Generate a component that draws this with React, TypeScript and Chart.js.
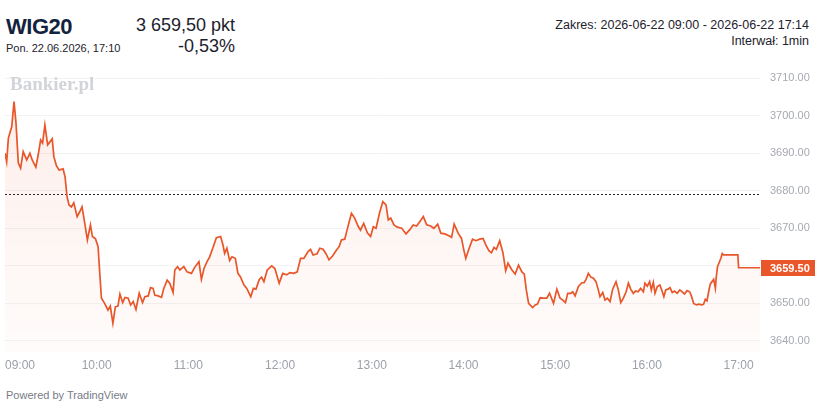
import React, { useEffect, useRef } from "react";
import { Chart, registerables } from "chart.js";

Chart.register(...registerables);

// minutes after 09:00
const minutes = [
  0, 1.1, 2.2, 4.4, 5.9, 7.2, 8.7, 10.2, 11.9, 14.2, 16.3, 17.8, 20.2, 21.7, 23.3, 24.6, 26.1, 27.9, 29.4, 30.9,
  32, 33.7, 35.4, 38, 39.3, 40.6, 41.9, 43.5, 45, 47.2, 48.9, 50.4, 52.2, 53.9, 55.9, 57.2, 59.2, 60.9, 62, 63.1,
  65.2, 67.4, 68.9, 70.6, 72.2, 73.9,
  75.2, 77, 78.5, 80.6, 82.2, 83.9, 85.7, 87.8, 90, 91.5, 93.7, 95.2, 96.9, 98, 100.2, 102.4, 103.9, 106.1, 107.8, 110,
  111.1, 112.9, 114.4, 117, 119.1, 122, 124.1, 126.9, 128.5, 130.2, 132.2, 133.9, 136.1, 138.3, 141.1, 142.6, 143.7, 145.2, 147, 148.5,
  150.7, 152.4, 154,
  156.4, 158.2, 160.8, 162.5, 164.2, 166.4, 167.9, 169.4, 171.6, 174.5, 176.6, 179.4, 181.7, 184.3, 186.4, 189, 191.2, 193.4, 195.5, 198.3,
  199.9, 201.6, 204.2, 206, 208.1, 209.9, 212, 214.3, 216.9, 218.6, 220.1, 222.3, 223.8, 225.5, 226.7, 228.8, 231, 232.6, 234.7, 237.1,
  239.2,
  241, 242.8, 245, 247.2, 249.3, 250.8, 252.4, 254.5, 256.7, 259.6, 262.4, 265, 267.1, 269.3, 271.5, 273.7, 275.9, 278.5, 280.6, 283.1,
  285.2, 287.8, 291.1, 292.2, 293.9, 296.5, 298.7, 300.2, 301.5, 303.7, 305.9, 308.1, 310.6, 312.8, 314.6, 316.7, 318.3, 320, 321.5, 323.7,
  325.8, 327.6, 329.1,
  331.7, 333.8, 336, 338.2, 339.8, 341.1, 342.6, 345.2, 346.9, 348.4, 350.2, 352.3, 354.5, 356.3, 358.9, 361.1, 363.2, 365, 366.7, 368.2,
  370.2, 371.5, 373, 375.2, 377.4, 378.9, 380.2, 381.7, 383.3, 385, 386.7, 388.2, 389.3, 391.1, 392.6, 394.1, 395.9, 397.6, 399.8, 401.3,
  402.9, 404.6, 406.4, 407.9,
  409.4, 411.1, 412.6, 414.2, 415.9, 417.7, 418.7, 420.3, 421.8, 422.9, 424.2, 425.3, 426.8, 428.5, 430.1, 431.1, 432.3, 433.8, 435.1, 436.6,
  438.1, 439.8, 441.5, 443.1, 444.6, 446.3, 448, 449.1, 450.6, 452.4, 453.9, 456.1, 457.1, 458.2, 459.3, 460.4, 461.5, 462.6, 463.7, 464.8,
  465.4, 466.2, 467.5, 468.4, 469.3, 470.2, 479.5, 480, 494,
];

const values = [
  3690.0, 3687.7, 3694, 3697, 3703.7, 3698, 3687.4, 3686, 3690.4, 3688.2, 3690, 3688.2, 3686.3, 3689.5, 3693.5, 3692.7, 3697.5, 3692.2, 3693, 3693.8,
  3689, 3686.6, 3685.5, 3685.8, 3683.7, 3678.4, 3676.2, 3675.7, 3676.8, 3673.1, 3674.4, 3675.7, 3671.3, 3666.9, 3670.9, 3667.8, 3667.2, 3665.1, 3658.1, 3651.4,
  3650, 3648.2, 3649.3, 3644.7, 3649.1, 3649.3,
  3652.5, 3650.2, 3651.6, 3651.4, 3649.6, 3650.5, 3648.4, 3652.7, 3650.2, 3651.8, 3652, 3654.2, 3654, 3652.2, 3652, 3651.6, 3654, 3656.2, 3655.4, 3652.9,
  3658.9, 3659.8, 3658.9, 3659.8, 3658.4, 3658, 3659.6, 3661.1, 3656.4, 3659.3, 3661.1, 3662.4, 3664.9, 3667.5, 3667.8, 3665.6, 3663.3, 3664.7, 3661.4, 3662.4,
  3662, 3658, 3657.1,
  3654.9, 3654, 3651.8, 3654, 3653.8, 3656.4, 3657, 3655.8, 3658.9, 3660, 3659.3, 3655.4, 3658, 3657.6, 3658.2, 3658, 3658.4, 3662, 3662, 3663.8,
  3664.4, 3662.9, 3663.2, 3664.7, 3664.4, 3663.3, 3661.6, 3662.6, 3664.2, 3665.1, 3666.9, 3667.1, 3669.5, 3672.2, 3674, 3672.7, 3670.6, 3669.5, 3671.3, 3668.8,
  3667.8,
  3670.4, 3670, 3674, 3677.1, 3676.2, 3672.2, 3672.7, 3670.9, 3670.3, 3670, 3668.5, 3669.7, 3670.9, 3670.6, 3671.8, 3673.1, 3670.9, 3670.6, 3670, 3671.1,
  3668.7, 3668.5, 3667.9, 3667.6, 3671.1, 3668.7, 3667.3, 3664.2, 3662, 3664.7, 3667.1, 3666.7, 3667.1, 3667.3, 3665.6, 3664, 3663.5, 3664.9, 3664.4, 3666.7,
  3663.5, 3658.7, 3660.7,
  3658.9, 3657.8, 3660.2, 3658.4, 3657.8, 3653.6, 3650, 3648.9, 3649.6, 3649.8, 3651.5, 3651.4, 3651.4, 3652.7, 3650, 3653.8, 3651.4, 3650.9, 3650.2, 3652.7,
  3652.7, 3653.1, 3652, 3654.5, 3655.5, 3655.5, 3656.4, 3658, 3657, 3656.7, 3655.8, 3653.6, 3651.8, 3652.9, 3650.9, 3651.4, 3650.5, 3653.8, 3655.8, 3653.6,
  3650.2, 3651.4, 3653.1, 3655.4,
  3653.8, 3652.7, 3653.3, 3653.1, 3654, 3653.1, 3655.4, 3654.6, 3655.8, 3653.6, 3655.6, 3652.7, 3654.5, 3654.9, 3653.1, 3651.8, 3653.6, 3653.8, 3654.2, 3652.9,
  3653.3, 3652.7, 3653.6, 3653.1, 3652.5, 3653.4, 3653.1, 3652, 3650, 3649.6, 3649.8, 3649.6, 3649.8, 3651.1, 3650.7, 3653.1, 3655.2, 3655.8, 3656.4, 3654,
  3657.1, 3659.8, 3661.1, 3662, 3663.3, 3662.9, 3662.9, 3659.5, 3659.5,
];

const prevClose = 3679.0;
const lastPrice = 3659.5;
const yMin = 3637.07;
const yMax = 3714.26;
const yTicks = [3640, 3650, 3660, 3670, 3680, 3690, 3700, 3710];
const xTickMinutes = [0, 60, 120, 180, 240, 300, 360, 420, 480];
const xTickLabels = ["09:00", "10:00", "11:00", "12:00", "13:00", "14:00", "15:00", "16:00", "17:00"];

const FONT = '"Liberation Sans", Arial, sans-serif';
const LINE = "#e8562a";

export default function App() {
  const ref = useRef<HTMLCanvasElement>(null);

  useEffect(() => {
    const canvas = ref.current;
    if (!canvas) return;
    const points = minutes.map((m, i) => ({ x: m, y: values[i] }));

    const extras = {
      id: "extras",
      beforeDatasetsDraw(chart: any) {
        const { ctx, chartArea, scales } = chart;
        const y = Math.round(scales.y.getPixelForValue(prevClose)) + 0.5;
        ctx.save();
        ctx.strokeStyle = "#1e222d";
        ctx.lineWidth = 1;
        ctx.setLineDash([2, 2]);
        ctx.beginPath();
        ctx.moveTo(chartArea.left, y);
        ctx.lineTo(chartArea.right, y);
        ctx.stroke();
        ctx.restore();
      },
      afterDraw(chart: any) {
        const { ctx, chartArea, scales, width } = chart;
        ctx.save();
        ctx.font = `12px ${FONT}`;
        ctx.fillStyle = "#9ca0a9";
        ctx.textBaseline = "middle";
        ctx.textAlign = "left";
        xTickMinutes.forEach((m, i) => {
          const px = scales.x.getPixelForValue(m);
          const w = ctx.measureText(xTickLabels[i]).width;
          let left = px - w / 2;
          if (left < chartArea.left) left = chartArea.left;
          if (left + w > chartArea.right) left = chartArea.right - w;
          ctx.fillText(xTickLabels[i], left, chartArea.bottom + 14);
        });
        // last price label
        const py = scales.y.getPixelForValue(lastPrice);
        ctx.fillStyle = LINE;
        ctx.fillRect(chartArea.right + 1, Math.round(py) - 8, width - chartArea.right - 1, 16);
        ctx.fillStyle = "#ffffff";
        ctx.font = `bold 11px ${FONT}`;
        ctx.fillText(lastPrice.toFixed(2), chartArea.right + 10, Math.round(py) + 0.5);
        ctx.restore();
      },
    };

    const zeroPad = (s: any) => {
      s.paddingTop = 0;
      s.paddingBottom = 0;
      s.paddingLeft = 0;
      s.paddingRight = 0;
    };

    const chart = new Chart(canvas, {
      type: "line",
      data: {
        datasets: [
          {
            data: points,
            borderColor: LINE,
            borderWidth: 1.7,
            pointRadius: 0,
            tension: 0,
            fill: "start",
            backgroundColor: (c: any) => {
              const area = c.chart.chartArea;
              if (!area) return "rgba(232,86,42,0.06)";
              const g = c.chart.ctx.createLinearGradient(0, area.top, 0, area.bottom);
              g.addColorStop(0, "rgba(232,86,42,0.11)");
              g.addColorStop(1, "rgba(232,86,42,0.02)");
              return g;
            },
          },
        ],
      },
      options: {
        animation: false,
        responsive: false,
        maintainAspectRatio: false,
        layout: { padding: { left: 5, top: 0, right: 0, bottom: 0 } },
        plugins: { legend: { display: false }, tooltip: { enabled: false } },
        scales: {
          x: {
            type: "linear",
            min: 0,
            max: 494,
            grid: { display: false },
            border: { display: false },
            ticks: { display: false },
            afterFit: (s: any) => {
              s.height = 28;
              zeroPad(s);
            },
          },
          y: {
            position: "right",
            min: yMin,
            max: yMax,
            grid: { color: "#f2f3f5", drawTicks: false },
            border: { display: false },
            afterBuildTicks: (s: any) => {
              s.ticks = yTicks.map((v) => ({ value: v }));
            },
            ticks: {
              padding: 10,
              color: "#a6a9b1",
              font: { family: FONT, size: 11 },
              callback: (v: any) => Number(v).toFixed(2),
            },
            afterFit: (s: any) => {
              s.width = 55;
              zeroPad(s);
            },
          },
        },
      },
      plugins: [extras],
    } as any);
    return () => chart.destroy();
  }, []);

  const abs = (o: React.CSSProperties): React.CSSProperties => ({ position: "absolute", whiteSpace: "nowrap", ...o });

  return (
    <div style={{ position: "absolute", left: 0, top: 0, width: 815, height: 404, background: "#fff", fontFamily: FONT, overflow: "hidden" }}>
      <canvas ref={ref} width={815} height={318} style={{ position: "absolute", left: 0, top: 62, width: 815, height: 318, display: "block" }} />
      <div style={abs({ left: 6, top: 16.4, fontSize: 22, lineHeight: "22px", fontWeight: 700, color: "#14233d", letterSpacing: -0.5 })}>WIG20</div>
      <div style={abs({ left: 6, top: 42.7, fontSize: 11, lineHeight: "11px", color: "#1e222d" })}>Pon. 22.06.2026, 17:10</div>
      <div style={abs({ left: 0, width: 235, textAlign: "right", top: 16, fontSize: 18, lineHeight: "18px", color: "#1e222d" })}>3 659,50 pkt</div>
      <div style={abs({ left: 0, width: 235, textAlign: "right", top: 37, fontSize: 18, lineHeight: "18px", color: "#1e222d" })}>-0,53%</div>
      <div style={abs({ right: 6, textAlign: "right", top: 19, fontSize: 12.5, lineHeight: "12.5px", color: "#1e222d" })}>Zakres: 2026-06-22 09:00 - 2026-06-22 17:14</div>
      <div style={abs({ right: 6, textAlign: "right", top: 35.4, fontSize: 12.5, lineHeight: "12.5px", color: "#1e222d" })}>Interwał: 1min</div>
      <div style={abs({ left: 10, top: 74, fontSize: 19, lineHeight: "19px", fontWeight: 700, color: "#d2d4d9", fontFamily: '"Liberation Serif", "DejaVu Serif", serif' })}>Bankier.pl</div>
      <div style={abs({ left: 6, top: 390, fontSize: 11, lineHeight: "11px", color: "#787b86" })}>Powered by TradingView</div>
    </div>
  );
}
